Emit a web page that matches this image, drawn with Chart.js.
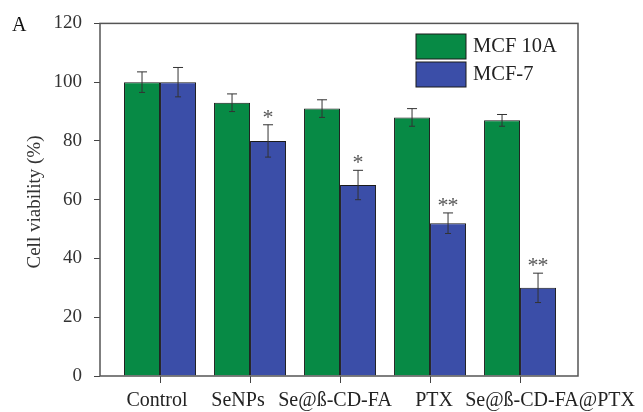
<!DOCTYPE html>
<html>
<head>
<meta charset="utf-8">
<script src="https://cdn.jsdelivr.net/npm/chart.js@4"></script>
<style>
  html, body { margin: 0; padding: 0; background: #fff; }
  #wrap { width: 643px; height: 412px; }
</style>
</head>
<body>
<div id="wrap"><canvas id="chart"></canvas></div>
<script>
const CATEGORIES = ["Control", "SeNPs", "Se@\u00DF-CD-FA", "PTX", "Se@\u00DF-CD-FA@PTX"];
const MCF10A = [100, 93, 91, 88, 87];
const MCF10A_ERR = [3.5, 3, 3, 3, 2];
const MCF7 = [100, 80, 65, 52, 30];
const MCF7_ERR = [5, 5.5, 5, 3.5, 5];
const MCF7_STARS = ["", "*", "*", "**", "**"];
const Y_TICKS = [0, 20, 40, 60, 80, 100, 120];

const GREEN = '#078a45';
const BLUE = '#3b4ea8';
const SERIF = '"Liberation Serif", "Times New Roman", serif';
// the original figure nudges some category labels sideways so they don't collide
const LABEL_NUDGE = [-3, -12, -5, 4, 30];

const extras = {
    id: 'extras',
    afterDatasetsDraw(chart) {
        const ctx = chart.ctx;
        const y = chart.scales.y;
        const sets = [[MCF10A, MCF10A_ERR], [MCF7, MCF7_ERR]];
        ctx.save();
        ctx.strokeStyle = '#333';
        ctx.lineWidth = 1;
        sets.forEach((s, di) => {
            const meta = chart.getDatasetMeta(di);
            meta.data.forEach((bar, i) => {
                const x = bar.x;
                const top = y.getPixelForValue(s[0][i] + s[1][i]);
                const bot = y.getPixelForValue(s[0][i] - s[1][i]);
                ctx.beginPath();
                ctx.moveTo(x, top); ctx.lineTo(x, bot);
                ctx.moveTo(x - 5, top); ctx.lineTo(x + 5, top);
                ctx.moveTo(x - 3, bot); ctx.lineTo(x + 3, bot);
                ctx.stroke();
                if (di === 1 && MCF7_STARS[i]) {
                    ctx.fillStyle = '#555';
                    ctx.font = '22px ' + SERIF;
                    ctx.textAlign = 'center';
                    ctx.textBaseline = 'alphabetic';
                    const n = MCF7_STARS[i].length;
                    for (let k = 0; k < n; k++) {
                        const dx = n === 1 ? 0 : (k === 0 ? -5 : 5);
                        ctx.fillText('*', x + dx, top - 1);
                    }
                }
            });
        });
        ctx.restore();
    },
    afterDraw(chart) {
        const ctx = chart.ctx;
        const a = chart.chartArea;
        const xs = chart.scales.x;
        ctx.save();
        ctx.strokeStyle = '#555';
        ctx.lineWidth = 1.5;
        ctx.strokeRect(a.left, a.top, a.right - a.left, a.bottom - a.top);

        // category labels
        ctx.fillStyle = '#222';
        ctx.font = '20px ' + SERIF;
        ctx.textAlign = 'center';
        ctx.textBaseline = 'alphabetic';
        CATEGORIES.forEach((c, i) => {
            ctx.fillText(c, xs.getPixelForValue(i + 1) + LABEL_NUDGE[i], a.bottom + 30);
        });

        // legend
        const items = [['MCF 10A', GREEN], ['MCF-7', BLUE]];
        items.forEach((it, i) => {
            const ty = 34 + i * 28;
            ctx.fillStyle = it[1];
            ctx.fillRect(416, ty, 50, 25);
            ctx.strokeStyle = '#1a1a1a';
            ctx.lineWidth = 1;
            ctx.strokeRect(416, ty, 50, 25);
            ctx.fillStyle = '#222';
            ctx.font = '20.5px ' + SERIF;
            ctx.textAlign = 'left';
            ctx.textBaseline = 'middle';
            ctx.fillText(it[0], 473, ty + 13);
        });

        // panel letter
        ctx.fillStyle = '#111';
        ctx.font = '20px ' + SERIF;
        ctx.textAlign = 'left';
        ctx.textBaseline = 'middle';
        ctx.fillText('A', 12, 26);

        // y title
        ctx.translate(35, 202);
        ctx.rotate(-Math.PI / 2);
        ctx.fillStyle = '#333';
        ctx.font = '19px ' + SERIF;
        ctx.textAlign = 'center';
        ctx.fillText('Cell viability (%)', 0, 0);
        ctx.restore();
    }
};

const toPoints = arr => arr.map((v, i) => ({ x: i + 1, y: v }));

new Chart(document.getElementById('chart'), {
    type: 'bar',
    data: {
        datasets: [{
            label: 'MCF 10A',
            data: toPoints(MCF10A),
            backgroundColor: GREEN,
            borderColor: '#1a1a1a',
            borderWidth: 1
        }, {
            label: 'MCF-7',
            data: toPoints(MCF7),
            backgroundColor: BLUE,
            borderColor: '#1a1a1a',
            borderWidth: 1
        }]
    },
    options: {
        responsive: true,
        maintainAspectRatio: false,
        animation: false,
        categoryPercentage: 0.8,
        barPercentage: 1.0,
        layout: { padding: { top: 22, right: 65, left: 0, bottom: 0 } },
        plugins: { legend: { display: false }, tooltip: { enabled: false } },
        scales: {
            x: {
                type: 'linear',
                offset: false,
                min: 0.333,
                max: 5.644,
                afterBuildTicks: s => { s.ticks = CATEGORIES.map((c, i) => ({ value: i + 1 })); },
                afterFit: s => { s.height = 36; },
                border: { display: false },
                grid: { offset: false, drawOnChartArea: false, drawTicks: true, tickLength: 7, color: '#444' },
                ticks: { display: false }
            },
            y: {
                min: 0,
                max: 120,
                afterBuildTicks: s => { s.ticks = Y_TICKS.map(v => ({ value: v })); },
                afterFit: s => { s.width = 100; },
                border: { display: false },
                grid: { drawOnChartArea: false, drawTicks: true, tickLength: 6, color: '#444' },
                ticks: {
                    padding: 12,
                    color: '#333',
                    font: { family: SERIF, size: 19 }
                }
            }
        }
    },
    plugins: [extras]
});
</script>
</body>
</html>
